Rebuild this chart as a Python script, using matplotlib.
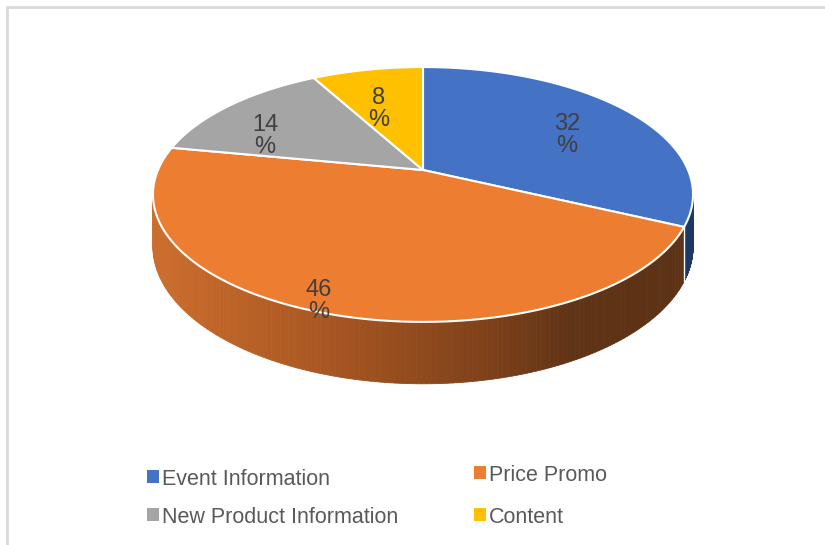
import numpy as np
import matplotlib.pyplot as plt
from matplotlib.patches import Polygon, Rectangle
from matplotlib.collections import PolyCollection

plt.rcParams['font.family'] = ['Liberation Sans', 'DejaVu Sans']

# data (share of each category, %)
labels = ["Event Information", "Price Promo", "New Product Information", "Content"]
values = [32, 46, 14, 8]
top_colors = ["#4472C4", "#ED7D31", "#A5A5A5", "#FFC000"]

# 3d pie geometry in pixels (y grows downwards)
CX, CY = 423, 170
RX, RY = 265, 90.1
K = 0.192          # perspective
DEPTH = 50


def proj(theta, r=1.0, drop=0.0):
    u = r * np.sin(theta)
    v = r * np.cos(theta)
    w = 1 + K * v
    return CX + RX * u / w, (CY - RY * v + drop) / w


def side_color(i, x):
    # darker towards the right, like the excel lighting
    if i == 0:
        return "#1F3763"
    xs = [150, 330, 480, 570, 700]
    rs = [205, 168, 128, 96, 92]
    gs = [110, 86, 66, 52, 50]
    bs = [45, 34, 26, 22, 20]
    return (np.interp(x, xs, rs) / 255, np.interp(x, xs, gs) / 255, np.interp(x, xs, bs) / 255)


fig = plt.figure(figsize=(8.25, 5.45), dpi=100)
ax = fig.add_axes([0, 0, 1, 1])
ax.set_xlim(0, 825)
ax.set_ylim(545, 0)
ax.axis('off')

# chart border
ax.plot([7, 7, 830], [550, 7, 7], color="#D9D9D9", lw=2, solid_capstyle='butt')

fracs = np.array(values) / sum(values)
edges = np.concatenate([[0], np.cumsum(fracs)]) * 2 * np.pi
t_right = np.arccos(-K)
t_left = 2 * np.pi - t_right

# side walls
for i in range(len(values)):
    a0 = max(edges[i], t_right)
    a1 = min(edges[i + 1], t_left)
    if a1 <= a0:
        continue
    ts = np.linspace(a0, a1, 160)
    polys, cols = [], []
    for ta, tb in zip(ts[:-1], ts[1:]):
        xa, ya = proj(ta)
        xb, yb = proj(tb)
        _, ya2 = proj(ta, drop=DEPTH)
        _, yb2 = proj(tb, drop=DEPTH)
        polys.append([(xa, ya), (xb, yb), (xb, yb2), (xa, ya2)])
        cols.append(side_color(i, (xa + xb) / 2))
    ax.add_collection(PolyCollection(polys, facecolors=cols, edgecolors=cols, lw=0.6, zorder=1))

# white seam between blue and orange sides
xs, ys = proj(edges[1])
_, ys2 = proj(edges[1], drop=DEPTH)
ax.plot([xs, xs], [ys, ys2], color="white", lw=1, zorder=1.5)

# top face
for i in range(len(values)):
    ts = np.linspace(edges[i], edges[i + 1], 200)
    px, py = proj(ts)
    pts = [(CX, CY)] + list(zip(px, py))
    ax.add_patch(Polygon(pts, closed=True, facecolor=top_colors[i],
                         edgecolor="white", lw=1.5, joinstyle='round', zorder=2))

# data labels
label_pos = [(567, 135), (319, 301), (265, 136), (379, 109)]
for v, (lx, ly) in zip(values, label_pos):
    ax.text(lx, ly, f"{v}\n%", ha='center', va='center', fontsize=17,
            color="#404040", linespacing=1.0, zorder=3)

# legend
leg_pos = [(147, 485), (474, 481), (147, 523), (474, 523)]
for lab, c, (lx, ly) in zip(labels, top_colors, leg_pos):
    ax.add_patch(Rectangle((lx, ly - 15), 11.5, 12.5, facecolor=c, edgecolor='none'))
    ax.text(lx + 15, ly, lab, ha='left', va='baseline', fontsize=15.5, color="#595959")

fig.savefig("out.png", dpi=100)
